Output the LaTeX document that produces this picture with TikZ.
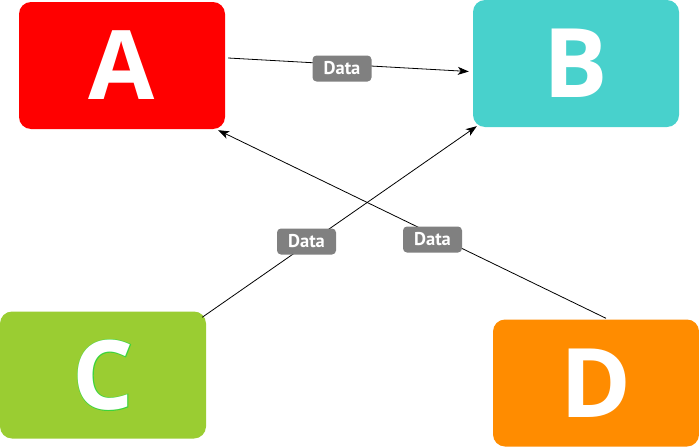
\documentclass[tikz,border=0pt]{standalone}
\usepackage{fontspec}
\setmainfont{Open Sans}
\newfontfamily\labelfont{PT Sans}
\newfontfamily\outlinefont{Open Sans Bold}[FakeBold=1.6]
\usetikzlibrary{arrows.meta,calc}
\definecolor{cA}{HTML}{FF0000}
\definecolor{cB}{HTML}{48D1CC}
\definecolor{cC}{HTML}{9ACD32}
\definecolor{cD}{HTML}{FF8C00}
\definecolor{cLabel}{HTML}{808080}
\definecolor{cOutline}{HTML}{3CD43C}
\tikzset{
  box/.style={rectangle, rounded corners=12pt, minimum width=206pt, minimum height=127pt, inner sep=0pt, text=white, font=\fontsize{96}{96}\selectfont\bfseries},
  datalabel/.style={rectangle, rounded corners=4pt, fill=cLabel, text=white, minimum width=59pt, minimum height=26pt, inner sep=0pt, font=\labelfont\fontsize{18.5}{18.5}\selectfont\bfseries},
  conn/.style={draw=black, line width=0.8pt, -{Stealth[length=11pt,width=8pt,inset=3pt]}}
}
\begin{document}
\begin{tikzpicture}[x=1pt,y=-1pt]
\useasboundingbox (0,0) rectangle (699,447);
\node[box, fill=cA] (A) at (122,65.5) {A};
\node[box, fill=cB] (B) at (576,63.5) {B};
\node[box, fill=cC] (C) at (103,375) {};
\node[text=cOutline, font=\outlinefont\fontsize{96}{96}\selectfont] (Cout) at (C) {C};
\node[text=white, font=\fontsize{96}{96}\selectfont\bfseries] (Ctext) at (C) {C};
\node[box, fill=cD] (D) at (596,383) {D};
% connectors
\draw[conn] ($(A.east)+(3,-7.5)$) -- ($(B.west)+(-4,8)$);
\draw[conn] ($(C.north east)+(-4,6)$) -- ($(B.south west)+(4,-1)$);
\draw[conn] ($(D.north)+(10,-1)$) -- ($(A.south east)+(-7,1)$);
% labels
\node[datalabel] (L1) at (342,68.5) {Data};
\node[datalabel] (L2) at (306.5,241.5) {Data};
\node[datalabel] (L3) at (432.5,239.5) {Data};
\end{tikzpicture}
\end{document}
